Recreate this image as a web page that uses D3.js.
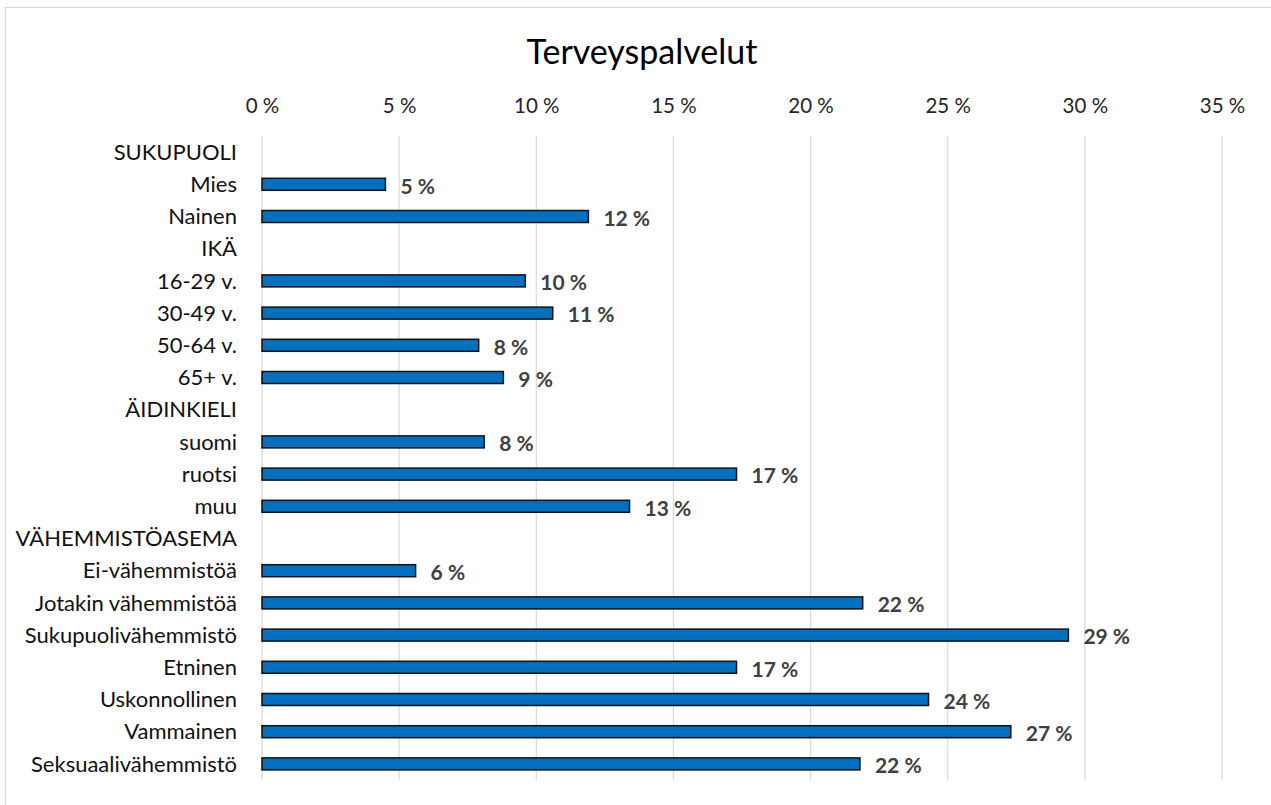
<!DOCTYPE html>
<html>
<head>
<meta charset="utf-8">
<script src="https://cdn.jsdelivr.net/npm/d3@7"></script>
<style>
  body { margin: 0; background: #fff; }
  text { font-family: Lato, "Open Sans", sans-serif; }
</style>
</head>
<body>
<svg width="1271" height="805"></svg>
<script>
// category rows (group headers have no value)
var categories = ['SUKUPUOLI', 'Mies', 'Nainen', 'IKÄ', '16-29 v.', '30-49 v.', '50-64 v.', '65+ v.',
    'ÄIDINKIELI', 'suomi', 'ruotsi', 'muu', 'VÄHEMMISTÖASEMA', 'Ei-vähemmistöä',
    'Jotakin vähemmistöä', 'Sukupuolivähemmistö', 'Etninen', 'Uskonnollinen', 'Vammainen',
    'Seksuaalivähemmistö'];
var values = [null, 4.5, 11.9, null, 9.6, 10.6, 7.9, 8.8,
    null, 8.1, 17.3, 13.4, null, 5.6,
    21.9, 29.4, 17.3, 24.3, 27.3,
    21.8];
var xTicks = [0, 5, 10, 15, 20, 25, 30, 35];
var title = 'Terveyspalvelut';

var rows = categories.map(function(c, i) {
    return {name: c, value: values[i]};
});

var svg = d3.select('svg');

// outer chart border (top and left visible)
svg.append('rect')
    .attr('x', 5.5).attr('y', 7.5)
    .attr('width', 1300).attr('height', 900)
    .attr('fill', 'none')
    .attr('stroke', '#d9d9d9')
    .attr('stroke-width', 1.2);

var x = d3.scaleLinear()
    .domain([0, 35])
    .range([262, 1222]);

var y = d3.scaleBand()
    .domain(categories)
    .range([136, 780]);

var barHeight = 12;

// title
svg.append('text')
    .attr('x', 642)
    .attr('y', 64)
    .attr('text-anchor', 'middle')
    .attr('font-size', 34)
    .attr('fill', '#000')
    .text(title);

// gridlines
svg.append('g')
    .selectAll('line')
    .data(xTicks)
    .enter()
    .append('line')
    .attr('x1', function(d) { return x(d); })
    .attr('x2', function(d) { return x(d); })
    .attr('y1', 136)
    .attr('y2', 780)
    .attr('stroke', '#d9d9d9')
    .attr('stroke-width', 1.2);

// top axis labels
var xAxis = svg.append('g')
    .attr('transform', 'translate(0,97)')
    .call(d3.axisTop(x).tickValues(xTicks).tickSize(0).tickPadding(0)
        .tickFormat(function(d) { return d + ' %'; }));
xAxis.select('.domain').remove();
xAxis.selectAll('text')
    .attr('font-family', 'Lato, "Open Sans", sans-serif')
    .attr('font-size', 20.5)
    .attr('fill', '#262626')
    .attr('dy', '0.8em');

// category labels
svg.append('g')
    .selectAll('text')
    .data(rows)
    .enter()
    .append('text')
    .attr('x', 237)
    .attr('y', function(d) { return y(d.name) + y.bandwidth() / 2; })
    .attr('dy', '0.35em')
    .attr('text-anchor', 'end')
    .attr('font-size', 22)
    .attr('fill', '#111')
    .text(function(d) { return d.name; });

var valued = rows.filter(function(d) { return d.value !== null; });

// bars
svg.append('g')
    .selectAll('rect')
    .data(valued)
    .enter()
    .append('rect')
    .attr('x', x(0))
    .attr('y', function(d) { return y(d.name) + y.bandwidth() / 2 - barHeight / 2; })
    .attr('width', function(d) { return x(d.value) - x(0); })
    .attr('height', barHeight)
    .attr('fill', '#0070c0')
    .attr('stroke', '#111')
    .attr('stroke-width', 1.5);

// value labels
svg.append('g')
    .selectAll('text')
    .data(valued)
    .enter()
    .append('text')
    .attr('x', function(d) { return x(d.value) + 15; })
    .attr('y', function(d) { return y(d.name) + y.bandwidth() / 2 + 2; })
    .attr('dy', '0.35em')
    .attr('font-size', 21)
    .attr('font-weight', 'bold')
    .attr('fill', '#404040')
    .text(function(d) { return Math.round(d.value) + ' %'; });
</script>
</body>
</html>
